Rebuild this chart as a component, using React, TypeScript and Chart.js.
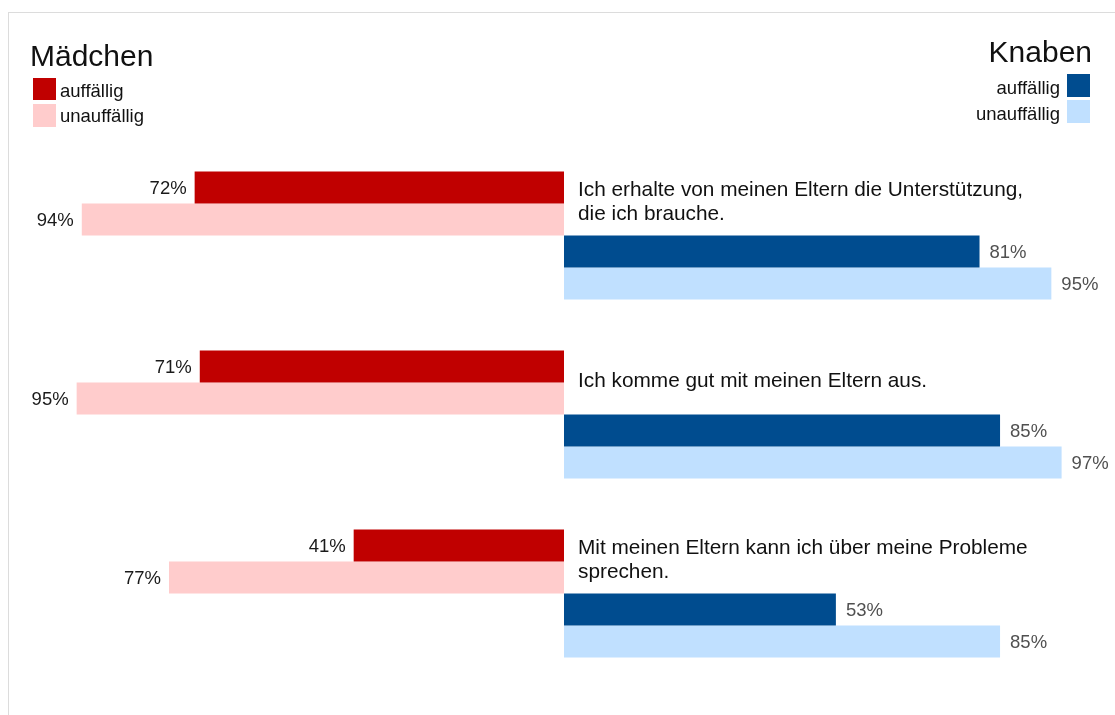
import React, { useEffect, useRef } from "react";
import { Chart, registerables } from "chart.js";

Chart.register(...registerables);

const questionLines: string[][] = [
  ["Ich erhalte von meinen Eltern die Unterstützung,", "die ich brauche."],
  ["Ich komme gut mit meinen Eltern aus."],
  ["Mit meinen Eltern kann ich über meine Probleme", "sprechen."],
];
const categories = questionLines.map((l) => l.join(" "));
const girlsAuffaellig = [72, 71, 41];
const girlsUnauffaellig = [94, 95, 77];
const boysAuffaellig = [81, 85, 53];
const boysUnauffaellig = [95, 97, 85];

const groupTitles = ["Mädchen", "Knaben"];
const legendLabels = ["auffällig", "unauffällig"];

const RED = "#C00000";
const PINK = "#FFCCCC";
const BLUE = "#004C8F";
const LIGHTBLUE = "#C0E0FF";
const FONT = "'Liberation Sans', Arial, Helvetica, sans-serif";

const OFFX = 9;
const OFFY = 13;

const overlayPlugin = {
  id: "overlay",
  afterDatasetsDraw(chart: any) {
    const ctx = chart.ctx as CanvasRenderingContext2D;
    ctx.save();
    ctx.translate(-OFFX, -OFFY);

    // value labels
    chart.data.datasets.forEach((ds: any, di: number) => {
      const meta = chart.getDatasetMeta(di);
      meta.data.forEach((el: any, i: number) => {
        const v = ds.data[i] as number;
        const size = 18.5;
        ctx.font = `${size}px ${FONT}`;
        const baseY = el.y + OFFY + size * 0.36;
        const label = `${Math.abs(v)}%`;
        ctx.textBaseline = "alphabetic";
        if (v < 0) {
          ctx.fillStyle = "#1a1a1a";
          ctx.textAlign = "right";
          ctx.fillText(label, el.x + OFFX - 8, baseY);
        } else {
          ctx.fillStyle = "#505050";
          ctx.textAlign = "left";
          ctx.fillText(label, el.x + OFFX + 10, baseY);
        }
      });
    });

    // question texts
    const meta0 = chart.getDatasetMeta(0);
    const qSize = 20.8;
    const lh = 23.3;
    ctx.font = `${qSize}px ${FONT}`;
    ctx.fillStyle = "#111111";
    ctx.textAlign = "left";
    ctx.textBaseline = "alphabetic";
    const centerX = chart.scales.x.getPixelForValue(0) + OFFX;
    questionLines.forEach((lines, i) => {
      const el: any = meta0.data[i];
      const boundary = el.y + el.height / 2 + OFFY;
      const c = boundary - 3;
      lines.forEach((line, j) => {
        const y = c + qSize * 0.36 + (j - (lines.length - 1) / 2) * lh;
        ctx.fillText(line, centerX + 14, y);
      });
    });

    // legends
    ctx.fillStyle = "#111111";
    ctx.font = `30px ${FONT}`;
    ctx.textAlign = "left";
    ctx.fillText(groupTitles[0], 30, 66);
    ctx.textAlign = "right";
    ctx.fillText(groupTitles[1], 1092, 62);

    ctx.font = `18.5px ${FONT}`;
    ctx.fillStyle = RED;
    ctx.fillRect(33, 78, 23, 22);
    ctx.fillStyle = PINK;
    ctx.fillRect(33, 104, 23, 23);
    ctx.fillStyle = "#111111";
    ctx.textAlign = "left";
    ctx.fillText(legendLabels[0], 60, 96.5);
    ctx.fillText(legendLabels[1], 60, 121.5);

    ctx.fillStyle = BLUE;
    ctx.fillRect(1067, 74, 23, 23);
    ctx.fillStyle = LIGHTBLUE;
    ctx.fillRect(1067, 100, 23, 23);
    ctx.fillStyle = "#111111";
    ctx.textAlign = "right";
    ctx.fillText(legendLabels[0], 1060, 94);
    ctx.fillText(legendLabels[1], 1060, 120);

    ctx.restore();
  },
};

export default function App() {
  const canvasRef = useRef<HTMLCanvasElement | null>(null);

  useEffect(() => {
    const canvas = canvasRef.current;
    if (!canvas) return;
    const chart = new Chart(canvas, {
      type: "bar",
      data: {
        labels: categories,
        datasets: [
          {
            label: `${groupTitles[0]} ${legendLabels[0]}`,
            data: girlsAuffaellig.map((v) => -v),
            backgroundColor: RED,
          },
          {
            label: `${groupTitles[0]} ${legendLabels[1]}`,
            data: girlsUnauffaellig.map((v) => -v),
            backgroundColor: PINK,
          },
          {
            label: `${groupTitles[1]} ${legendLabels[0]}`,
            data: boysAuffaellig,
            backgroundColor: BLUE,
          },
          {
            label: `${groupTitles[1]} ${legendLabels[1]}`,
            data: boysUnauffaellig,
            backgroundColor: LIGHTBLUE,
          },
        ],
      },
      options: {
        indexAxis: "y",
        responsive: false,
        maintainAspectRatio: false,
        animation: false,
        devicePixelRatio: 1,
        layout: { padding: { left: 42, right: 38, top: 133, bottom: 32 } },
        datasets: {
          bar: {
            categoryPercentage: 0.716,
            barPercentage: 1,
            borderWidth: 0,
          },
        },
        scales: {
          x: { display: false, min: -100, max: 100 },
          y: { display: false },
        },
        plugins: {
          legend: { display: false },
          tooltip: { enabled: false },
          title: { display: false },
        },
      },
      plugins: [overlayPlugin],
    } as any);
    return () => chart.destroy();
  }, []);

  return (
    <div
      style={{
        position: "absolute",
        top: 12,
        left: 8,
        width: 1107,
        height: 703,
        boxSizing: "border-box",
        borderTop: "1px solid #dcdcdc",
        borderLeft: "1px solid #dcdcdc",
        background: "#ffffff",
      }}
    >
      <canvas
        ref={canvasRef}
        width={1106}
        height={702}
        style={{ display: "block", width: 1106, height: 702 }}
      />
    </div>
  );
}
